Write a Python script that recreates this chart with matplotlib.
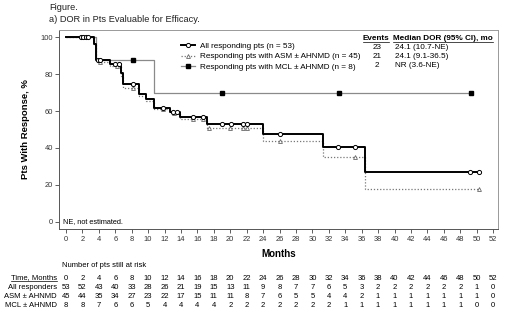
import matplotlib
matplotlib.use('Agg')
import matplotlib.pyplot as plt
from matplotlib.lines import Line2D
from matplotlib.transforms import blended_transform_factory

plt.rcParams['font.family'] = ['Liberation Sans', 'DejaVu Sans']

# Kaplan-Meier steps (months, % with response)
all_t = [0, 3.45, 3.7, 5.4, 6.7, 7.0, 8.9, 9.8, 10.7, 12.7, 13.9, 17.2, 24.0, 31.3, 36.4, 50.3]
all_s = [100, 96.2, 87.5, 85.4, 80.5, 74.4, 69.1, 66.5, 61.5, 59.6, 56.8, 52.9, 47.4, 40.7, 27.2, 27.2]
all_cens_t = [1.8, 2.1, 2.4, 2.7, 3.9, 4.2, 6.0, 6.4, 8.2, 11.8, 13.0, 13.5, 15.5, 16.7,
              19.0, 20.1, 21.6, 22.0, 26.0, 33.1, 35.2, 49.2, 50.3]

asm_t = [0, 3.45, 3.7, 5.4, 6.7, 7.0, 8.9, 9.8, 10.7, 12.7, 13.9, 17.2, 24.0, 31.3, 36.4, 50.3]
asm_s = [100, 95.6, 86.7, 84.3, 78.9, 72.5, 68.0, 65.6, 61.0, 58.7, 55.5, 50.6, 43.8, 35.3, 17.6, 17.6]
asm_cens_t = [2.0, 2.4, 4.1, 6.2, 8.2, 11.8, 13.2, 15.5, 16.7, 17.4, 20.0, 21.6, 22.0, 26.1, 35.2, 50.3]

mcl_t = [0, 3.6, 10.7, 49.3]
mcl_s = [100, 87.5, 70, 70]
mcl_cens_t = [8.1, 19.0, 33.2, 49.3]

labels = ['All responding pts (n = 53)',
          'Responding pts with ASM \u00b1 AHNMD (n = 45)',
          'Responding pts with MCL \u00b1 AHNMD (n = 8)']
events = ['23', '21', '2']
medians = ['24.1 (10.7-NE)', '24.1 (9.1-36.5)', 'NR (3.6-NE)']

risk_times = list(range(0, 53, 2))
risk_all = [53, 52, 43, 40, 33, 28, 26, 21, 19, 15, 13, 11, 9, 8, 7, 7, 6, 5, 3, 2, 2, 2, 2, 2, 2, 1, 0]
risk_asm = [45, 44, 35, 34, 27, 23, 22, 17, 15, 11, 11, 8, 7, 6, 5, 5, 4, 4, 2, 1, 1, 1, 1, 1, 1, 1, 0]
risk_mcl = [8, 8, 7, 6, 6, 5, 4, 4, 4, 4, 2, 2, 2, 2, 2, 2, 2, 1, 1, 1, 1, 1, 1, 1, 1, 0, 0]
risk_names = ['All responders', 'ASM \u00b1 AHNMD', 'MCL \u00b1 AHNMD']


def surv_at(t, ts, ss):
    v = ss[0]
    for a, b in zip(ts, ss):
        if a <= t:
            v = b
    return v


W, H = 520, 313
fig = plt.figure(figsize=(W / 100, H / 100), dpi=100)
fx = lambda px: px / W
fy = lambda py: 1 - py / H
ax = fig.add_axes([fx(59), fy(229), fx(498) - fx(59), fy(30) - fy(229)])

gray = '#8a8a8a'
ax.step(mcl_t, mcl_s, where='post', color=gray, lw=0.9, zorder=2)
ax.step(asm_t, asm_s, where='post', color='#777777', lw=0.9, ls=(0, (1, 1.5)), zorder=3)
ax.step(all_t, all_s, where='post', color='black', lw=1.4, zorder=4)

ax.plot(mcl_cens_t, [surv_at(t, mcl_t, mcl_s) for t in mcl_cens_t], ls='none', marker='s',
        ms=2.6, color='black', zorder=5)
ax.plot(asm_cens_t, [surv_at(t, asm_t, asm_s) for t in asm_cens_t], ls='none', marker='^',
        ms=2.8, mfc='white', mec='#666666', mew=0.6, zorder=5)
ax.plot(all_cens_t, [surv_at(t, all_t, all_s) for t in all_cens_t], ls='none', marker='o',
        ms=3.0, mfc='white', mec='black', mew=0.7, zorder=6)

ax.set_xlim(-0.85, 52.6)
ax.set_ylim(-3.8, 103.8)
ax.set_xticks(risk_times)
ax.set_yticks(range(0, 101, 20))
ax.tick_params(labelsize=5.4, length=2.6, width=0.6, color='#444444', labelcolor='#333333')
ax.tick_params(axis='x', pad=2.6)
ax.tick_params(axis='y', pad=1.5)
for s in ax.spines.values():
    s.set_color('#555555')
    s.set_linewidth(0.7)
ax.spines['right'].set_color('#999999')
ax.spines['top'].set_color('#999999')

ax.set_ylabel('Pts With Response, %', fontsize=6.8, fontweight='bold', labelpad=8)
fig.text(fx(278.5), fy(254), 'Months', fontsize=7, fontweight='bold', ha='center', va='center')

handles = [
    Line2D([], [], color='black', lw=1.4, marker='o', ms=3.0, mfc='white', mec='black', mew=0.7),
    Line2D([], [], color='#777777', lw=0.9, ls=(0, (1, 1.5)), marker='^', ms=2.8, mfc='white', mec='#666666', mew=0.6),
    Line2D([], [], color=gray, lw=0.9, marker='s', ms=2.6, mfc='black', mec='black'),
]
ax.legend(handles, labels, loc='upper left', bbox_to_anchor=(fx(181), fy(42.5)),
          bbox_transform=fig.transFigure, frameon=False, fontsize=5.9, borderpad=0,
          handlelength=1.75, handletextpad=0.55, labelspacing=0.3, borderaxespad=0)

row_y = [47.5, 56.5, 65.5]
head_ev = fig.text(fx(376), fy(38.5), 'Events', fontsize=5.9, fontweight='bold', ha='center', va='center')
head_md = fig.text(fx(393), fy(38.5), 'Median DOR (95% CI), mo', fontsize=5.9, fontweight='bold', ha='left', va='center')
for y, e, m in zip(row_y, events, medians):
    fig.text(fx(377), fy(y), e, fontsize=5.9, ha='center', va='center')
    fig.text(fx(395), fy(y), m, fontsize=5.9, ha='left', va='center')

fig.text(fx(63), fy(221.5), 'NE, not estimated.', fontsize=5.3, ha='left', va='center')

fig.text(fx(49), fy(8), 'Figure.', fontsize=6.7, ha='left', va='center', color='#222222')
fig.text(fx(49), fy(19), 'a) DOR in Pts Evaluable for Efficacy.', fontsize=6.7, ha='left', va='center', color='#222222')

fig.text(fx(62), fy(265.5), 'Number of pts still at risk', fontsize=5.5, ha='left', va='center')
tr = blended_transform_factory(ax.transData, fig.transFigure)
time_lbl = fig.text(fx(57), fy(278), 'Time, Months', fontsize=5.5, ha='right', va='center')
for t in risk_times:
    ax.text(t, fy(278), str(t), transform=tr, fontsize=5.5, ha='center', va='center')
for y, name, vals in zip([287.2, 296.4, 305.6], risk_names, [risk_all, risk_asm, risk_mcl]):
    fig.text(fx(57), fy(y), name, fontsize=5.5, ha='right', va='center')
    for t, v in zip(risk_times, vals):
        ax.text(t, fy(y), str(v), transform=tr, fontsize=5.5, ha='center', va='center')

# underline the headers
fig.canvas.draw()
r = fig.canvas.get_renderer()
for txt in [head_ev, head_md, time_lbl]:
    bb = txt.get_window_extent(r)
    fig.add_artist(Line2D([bb.x0 / W, bb.x1 / W], [(bb.y0 + 0.3) / H] * 2, color='black', lw=0.5))

fig.savefig('out.png', dpi=100)
